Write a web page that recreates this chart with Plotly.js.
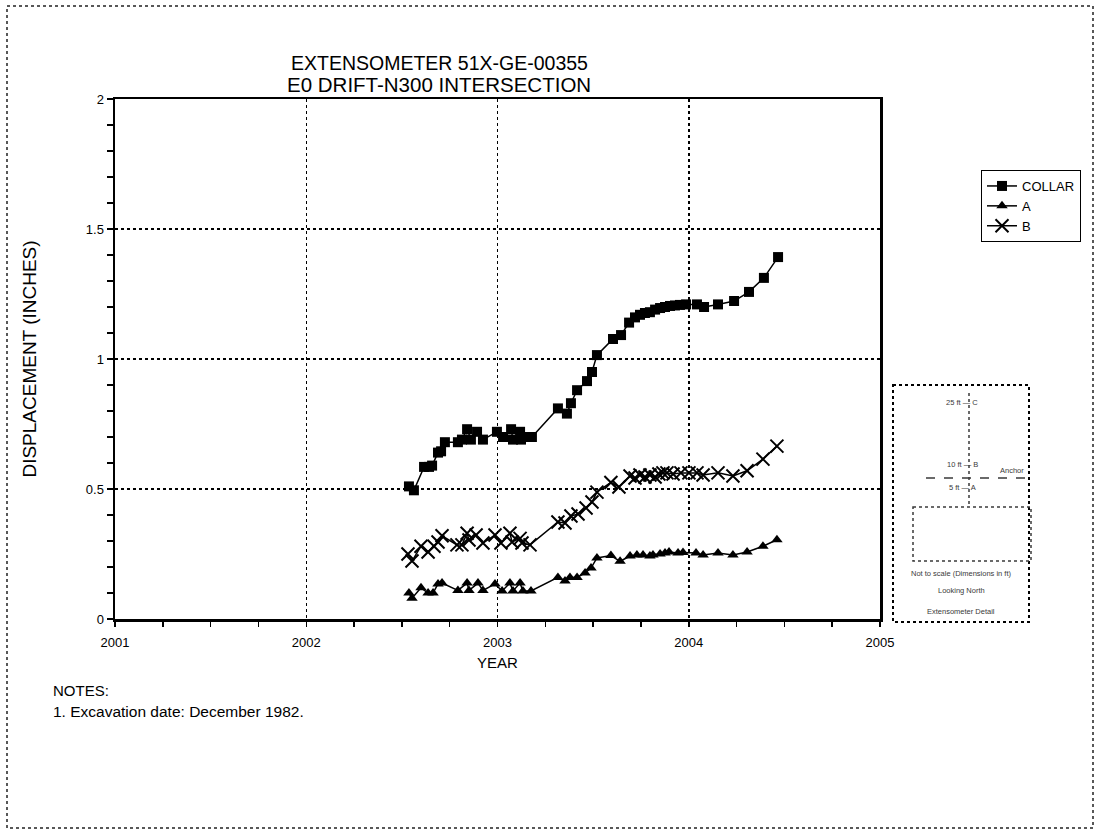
<!DOCTYPE html>
<html>
<head>
<meta charset="utf-8">
<script src="https://cdn.plot.ly/plotly-3.0.1.min.js"></script>
<style>
html,body{margin:0;padding:0;background:#fff;}
#chart{width:1095px;height:829px;}
</style>
</head>
<body>
<div id="chart"></div>
<script>
// ---- data (decimal years, displacement in inches) ----
const collarYear = [2002.537,2002.563,2002.616,2002.642,2002.658,2002.689,2002.705,2002.725,2002.793,2002.814,2002.841,2002.861,2002.893,2002.924,2002.997,2003.029,2003.071,2003.081,2003.118,2003.123,2003.154,2003.180,2003.316,2003.363,2003.384,2003.416,2003.468,2003.494,2003.520,2003.604,2003.646,2003.688,2003.719,2003.745,2003.771,2003.797,2003.824,2003.850,2003.876,2003.902,2003.928,2003.954,2003.986,2004.043,2004.080,2004.153,2004.237,2004.315,2004.393,2004.467];
const collarDisp = [0.51,0.495,0.585,0.585,0.59,0.64,0.645,0.68,0.68,0.69,0.73,0.69,0.72,0.69,0.72,0.70,0.73,0.69,0.72,0.69,0.70,0.70,0.81,0.79,0.83,0.88,0.915,0.95,1.015,1.077,1.092,1.14,1.16,1.17,1.177,1.18,1.19,1.196,1.20,1.204,1.206,1.208,1.21,1.21,1.20,1.21,1.223,1.258,1.312,1.392];

const aYear = [2002.537,2002.553,2002.600,2002.637,2002.663,2002.689,2002.710,2002.793,2002.841,2002.851,2002.898,2002.924,2002.987,2003.024,2003.065,2003.081,2003.118,2003.133,2003.175,2003.316,2003.353,2003.379,2003.416,2003.458,2003.489,2003.520,2003.593,2003.641,2003.693,2003.729,2003.761,2003.797,2003.813,2003.850,2003.876,2003.897,2003.944,2003.970,2004.038,2004.075,2004.153,2004.231,2004.305,2004.388,2004.461];
const aDisp = [0.10,0.08,0.12,0.10,0.10,0.135,0.138,0.11,0.138,0.11,0.138,0.11,0.135,0.108,0.138,0.108,0.138,0.108,0.108,0.16,0.146,0.16,0.16,0.177,0.196,0.235,0.244,0.222,0.242,0.246,0.246,0.242,0.246,0.25,0.254,0.258,0.254,0.256,0.254,0.246,0.254,0.246,0.258,0.28,0.305];

const bYear = [2002.532,2002.553,2002.600,2002.637,2002.668,2002.689,2002.710,2002.788,2002.814,2002.841,2002.851,2002.888,2002.924,2002.987,2003.018,2003.065,2003.076,2003.118,2003.128,2003.170,2003.316,2003.353,2003.384,2003.421,2003.463,2003.494,2003.520,2003.593,2003.635,2003.693,2003.719,2003.745,2003.771,2003.797,2003.824,2003.844,2003.865,2003.886,2003.918,2003.959,2004.001,2004.043,2004.075,2004.153,2004.231,2004.305,2004.388,2004.461];
const bDisp = [0.25,0.223,0.28,0.258,0.28,0.296,0.32,0.285,0.285,0.33,0.304,0.323,0.292,0.323,0.292,0.33,0.296,0.31,0.292,0.285,0.373,0.369,0.396,0.404,0.427,0.45,0.488,0.525,0.508,0.55,0.542,0.554,0.546,0.554,0.546,0.558,0.562,0.562,0.558,0.562,0.562,0.562,0.554,0.562,0.55,0.57,0.615,0.665];

const seriesNames = ['COLLAR','A','B'];
const xTickVals = [2001,2002,2003,2004,2005];
const xTickText = ['2001','2002','2003','2004','2005'];
const yTickVals = [0,0.5,1,1.5,2];
const yTickText = ['0','0.5','1','1.5','2'];

// ---- layout helpers (plot area: 115..880 px wide, 99..619 px tall) ----
const L = 115, R = 880, T = 99, B = 619;
const px = x => (x - L) / (R - L);
const py = y => (B - y) / (B - T);
const FONT = 'Liberation Sans, Arial, sans-serif';
const INK = '#3a3a3a';

const traces = [
  {x: collarYear, y: collarDisp, name: seriesNames[0], mode: 'lines+markers',
   line: {color: '#000', width: 1.5}, marker: {symbol: 'square', size: 10, color: '#000'}},
  {x: aYear, y: aDisp, name: seriesNames[1], mode: 'lines+markers',
   line: {color: '#000', width: 1.5}, marker: {symbol: 'triangle-up', size: 10, color: '#000'}},
  {x: bYear, y: bDisp, name: seriesNames[2], mode: 'lines+markers',
   line: {color: '#000', width: 1.5}, marker: {symbol: 'x-thin-open', size: 13, color: '#000', line: {color: '#000', width: 2}}}
];

const shapes = [
  // outer dotted frame
  {type: 'rect', xref: 'paper', yref: 'paper', x0: px(7), x1: px(1093), y0: py(6), y1: py(828),
   line: {color: '#222', width: 1.5, dash: 'dot'}},
  // inset frame
  {type: 'rect', xref: 'paper', yref: 'paper', x0: px(893), x1: px(1029), y0: py(385), y1: py(622),
   line: {color: '#000', width: 2, dash: 'dot'}},
  // inset vertical borehole
  {type: 'line', xref: 'paper', yref: 'paper', x0: px(969), x1: px(969), y0: py(393), y1: py(507),
   line: {color: INK, width: 1.5, dash: 'dot'}},
  // anchor dashed line
  {type: 'line', xref: 'paper', yref: 'paper', x0: px(926), x1: px(1030), y0: py(478), y1: py(478),
   line: {color: INK, width: 1.5, dash: 'dash'}},
  // inset drift rectangle
  {type: 'rect', xref: 'paper', yref: 'paper', x0: px(913), x1: px(1031), y0: py(507), y1: py(561),
   line: {color: INK, width: 1.5, dash: 'dot'}}
];

const ann = (text, x, y, size, opts) => Object.assign({
  text: text, xref: 'paper', yref: 'paper', x: px(x), y: py(y), showarrow: false,
  font: {family: FONT, size: size, color: '#000'}, xanchor: 'center', yanchor: 'middle'
}, opts || {});
const small = {family: FONT, size: 7.5, color: INK};

const annotations = [
  ann('EXTENSOMETER 51X-GE-00355', 439, 63, 19.5),
  ann('E0 DRIFT-N300 INTERSECTION', 439, 84, 20.5),
  ann('NOTES:', 51, 690, 15, {xanchor: 'left'}),
  ann('1. Excavation date: December 1982.', 51, 711, 15.5, {xanchor: 'left'}),
  // inset labels
  ann('25 ft \u2014 C', 962, 403, 7.5, {font: small}),
  ann('10 ft \u2014 B', 962, 465, 7.5, {font: small}),
  ann('5 ft \u2014 A', 962, 487, 7.5, {font: small}),
  ann('Anchor', 1012, 470, 7.5, {font: small}),
  ann('Not to scale (Dimensions in ft)', 961, 573, 7.5, {font: small}),
  ann('Looking North', 961, 590, 7.5, {font: small}),
  ann('Extensometer Detail', 961, 611, 7.5, {font: small})
];

const layout = {
  width: 1095, height: 829,
  margin: {l: L, r: 1095 - R, t: T, b: 829 - B, pad: 0, autoexpand: false},
  paper_bgcolor: '#fff', plot_bgcolor: '#fff',
  font: {family: FONT, size: 13, color: '#000'},
  showlegend: true,
  legend: {x: px(981), y: py(170), xanchor: 'left', yanchor: 'top',
           bordercolor: '#000', borderwidth: 1, bgcolor: '#fff',
           font: {family: FONT, size: 13, color: '#000'}, itemwidth: 30, tracegroupgap: 0},
  xaxis: {
    range: [2001, 2005], tickvals: xTickVals, ticktext: xTickText, automargin: false,
    ticks: 'outside', ticklen: 5, tickwidth: 1.5, tickcolor: '#000', ticklabelstandoff: 5,
    minor: {dtick: 0.25, tick0: 2001, ticks: 'outside', ticklen: 5, tickwidth: 1.5, tickcolor: '#000', showgrid: false},
    showgrid: true, gridcolor: '#000', gridwidth: 1.5, griddash: 'dot',
    showline: true, linecolor: '#000', linewidth: 2.5, mirror: true, zeroline: false,
    title: {text: 'YEAR', font: {family: FONT, size: 15}, standoff: 9},
    tickfont: {family: FONT, size: 13}
  },
  yaxis: {
    range: [0, 2], tickvals: yTickVals, ticktext: yTickText, automargin: false,
    ticks: 'outside', ticklen: 6, tickwidth: 1.5, tickcolor: '#000',
    minor: {dtick: 0.1, tick0: 0, ticks: 'outside', ticklen: 6, tickwidth: 1.5, tickcolor: '#000', showgrid: false},
    showgrid: true, gridcolor: '#000', gridwidth: 1.5, griddash: 'dot',
    showline: true, linecolor: '#000', linewidth: 2.5, mirror: true, zeroline: false,
    title: {text: 'DISPLACEMENT (INCHES)', font: {family: FONT, size: 19}, standoff: 44},
    tickfont: {family: FONT, size: 13}
  },
  shapes: shapes,
  annotations: annotations
};

Plotly.newPlot('chart', traces, layout, {displayModeBar: false, staticPlot: true});
</script>
</body>
</html>
